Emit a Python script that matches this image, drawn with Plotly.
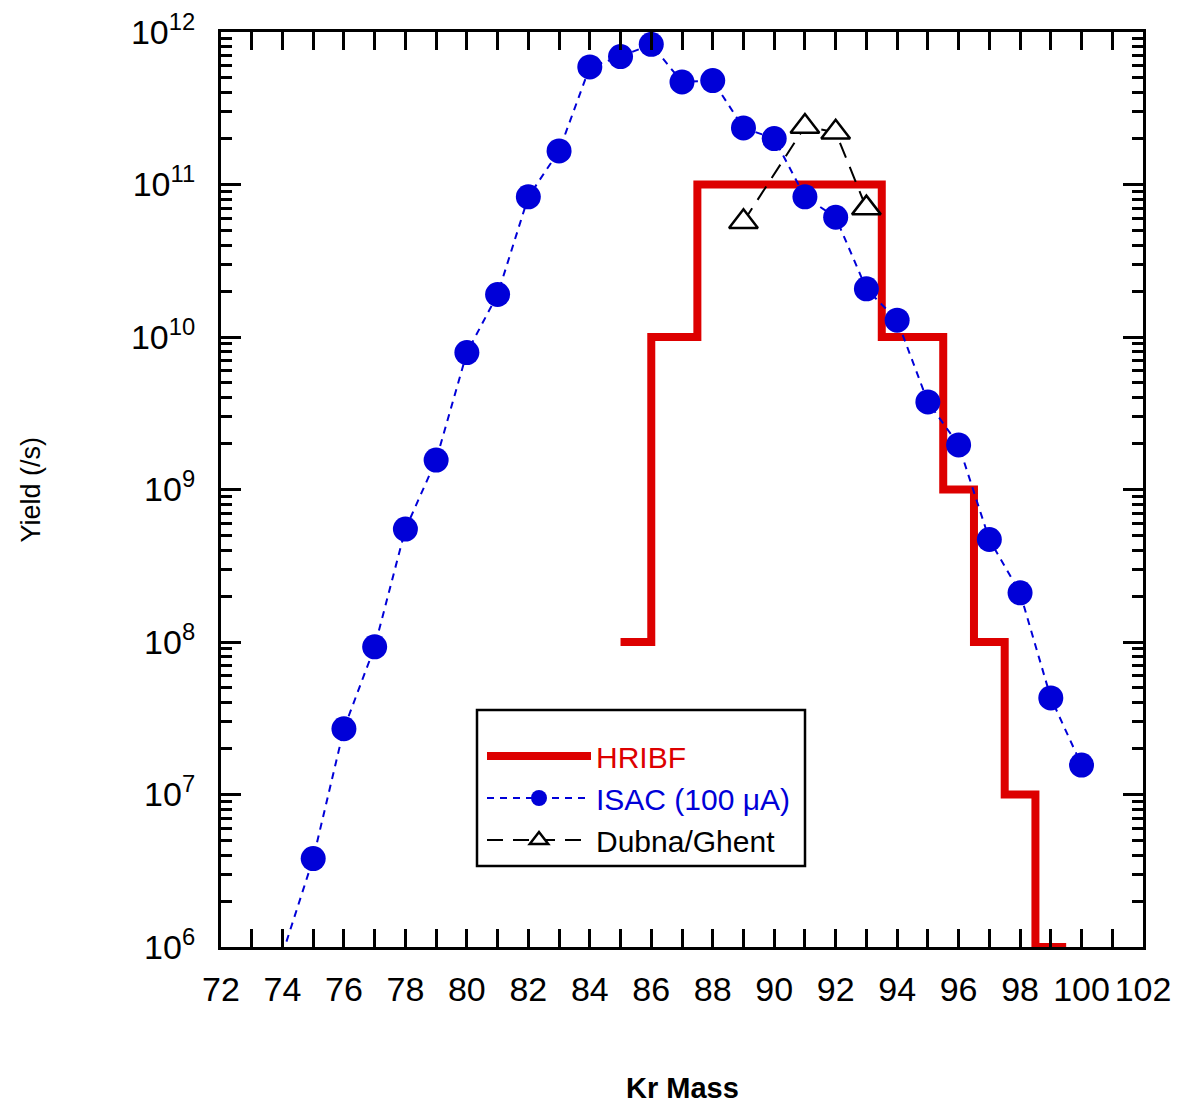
import plotly.graph_objects as go

# ---- data ----
isac_mass = [74, 75, 76, 77, 78, 79, 80, 81, 82, 83, 84, 85, 86, 87, 88, 89, 90,
             91, 92, 93, 94, 95, 96, 97, 98, 99, 100]
isac_yield = [9.0e5, 3.8e6, 2.7e7, 9.3e7, 5.5e8, 1.56e9, 7.9e9, 1.9e10, 8.3e10, 1.66e11,
              5.9e11, 6.9e11, 8.3e11, 4.7e11, 4.8e11, 2.35e11, 2.0e11, 8.3e10, 6.1e10,
              2.07e10, 1.29e10, 3.75e9, 1.96e9, 4.7e8, 2.1e8, 4.3e7, 1.56e7]

dubna_mass = [89, 91, 92, 93]
dubna_yield = [5.7e10, 2.4e11, 2.2e11, 7.0e10]

hribf_edges = [85, 86, 87.5, 93.5, 95.5, 96.5, 97.5, 98.5, 99.5]
hribf_yield = [1e8, 1e10, 1e11, 1e10, 1e9, 1e8, 1e7, 1e6, 1e6]

x_ticks = list(range(72, 103, 2))
y_decades = [6, 7, 8, 9, 10, 11, 12]

BLUE = "#0000D8"
RED = "#DD0000"

# first ISAC point lies below the axis: line only, no marker
isac_sizes = [0 if m < 75 else 25 for m in isac_mass]

fig = go.Figure()

fig.add_trace(go.Scatter(
    x=hribf_edges, y=hribf_yield, mode="lines", line_shape="hv",
    line=dict(color=RED, width=8),
    name="<span style='color:#DD0000'>HRIBF</span>",
))
fig.add_trace(go.Scatter(
    x=isac_mass, y=isac_yield, mode="lines+markers",
    line=dict(color=BLUE, width=2, dash="7px,6px"),
    marker=dict(color=BLUE, size=isac_sizes, opacity=1, line=dict(width=0)),
    name="<span style='color:#0000D8'>ISAC (100 \u03bcA)</span>",
))
fig.add_trace(go.Scatter(
    x=dubna_mass, y=dubna_yield, mode="lines+markers",
    line=dict(color="black", width=2, dash="16px,10px"),
    marker=dict(symbol="triangle-up", size=25, color="white", opacity=1,
                line=dict(color="black", width=2.5)),
    name="Dubna/Ghent",
))

L, R, T, B = 221, 35, 32, 157
W, H = 1178, 1104
PW, PH = W - L - R, H - T - B


def px_x(p):
    return (p - L) / PW


def px_y(p):
    return (H - B - p) / PH


fig.update_layout(
    width=W, height=H,
    margin=dict(l=L, r=R, t=T, b=B, autoexpand=False),
    plot_bgcolor="white", paper_bgcolor="white",
    font=dict(family="Liberation Sans, Arial", color="black"),
    showlegend=True,
    legend=dict(
        x=px_x(482), y=px_y(730),
        xanchor="left", yanchor="top",
        borderwidth=0, bgcolor="rgba(0,0,0,0)",
        font=dict(size=30, family="Liberation Sans, Arial"),
        itemwidth=104,
    ),
    shapes=[
        dict(type="rect", xref="paper", yref="paper",
             x0=px_x(477), x1=px_x(805), y0=px_y(866), y1=px_y(710),
             line=dict(color="black", width=2.5), fillcolor="white",
             layer="above"),
    ],
    xaxis=dict(
        range=[72, 102], tickvals=x_ticks, ticktext=[str(v) for v in x_ticks],
        ticks="inside", ticklen=18, tickwidth=2.5, tickcolor="black",
        showline=True, linewidth=3, linecolor="black", mirror="ticks",
        showgrid=False, zeroline=False, automargin=False,
        tickfont=dict(size=34), ticklabelstandoff=10,
        minor=dict(dtick=1, ticks="inside", ticklen=18, tickwidth=2.5,
                   tickcolor="black", showgrid=False),
    ),
    yaxis=dict(
        type="log", range=[6, 12],
        tickvals=[10 ** d for d in y_decades],
        ticktext=["10<sup>%d</sup>" % d for d in y_decades],
        ticks="inside", ticklen=20, tickwidth=2.5, tickcolor="black",
        showline=True, linewidth=3, linecolor="black", mirror="ticks",
        showgrid=False, zeroline=False, automargin=False,
        tickfont=dict(size=34), ticklabelstandoff=16,
        minor=dict(dtick="D1", ticks="inside", ticklen=11, tickwidth=2.5,
                   tickcolor="black", showgrid=False),
    ),
    annotations=[
        dict(text="<b>Kr Mass</b>", xref="paper", yref="paper",
             x=0.5, y=px_y(1088),
             xanchor="center", yanchor="middle", showarrow=False,
             font=dict(size=29)),
        dict(text="Yield (/s)", xref="paper", yref="paper",
             x=-(L - 30) / PW, y=0.5, textangle=-90,
             xanchor="center", yanchor="middle", showarrow=False,
             font=dict(size=27)),
    ],
)

fig.write_html("out.html")
